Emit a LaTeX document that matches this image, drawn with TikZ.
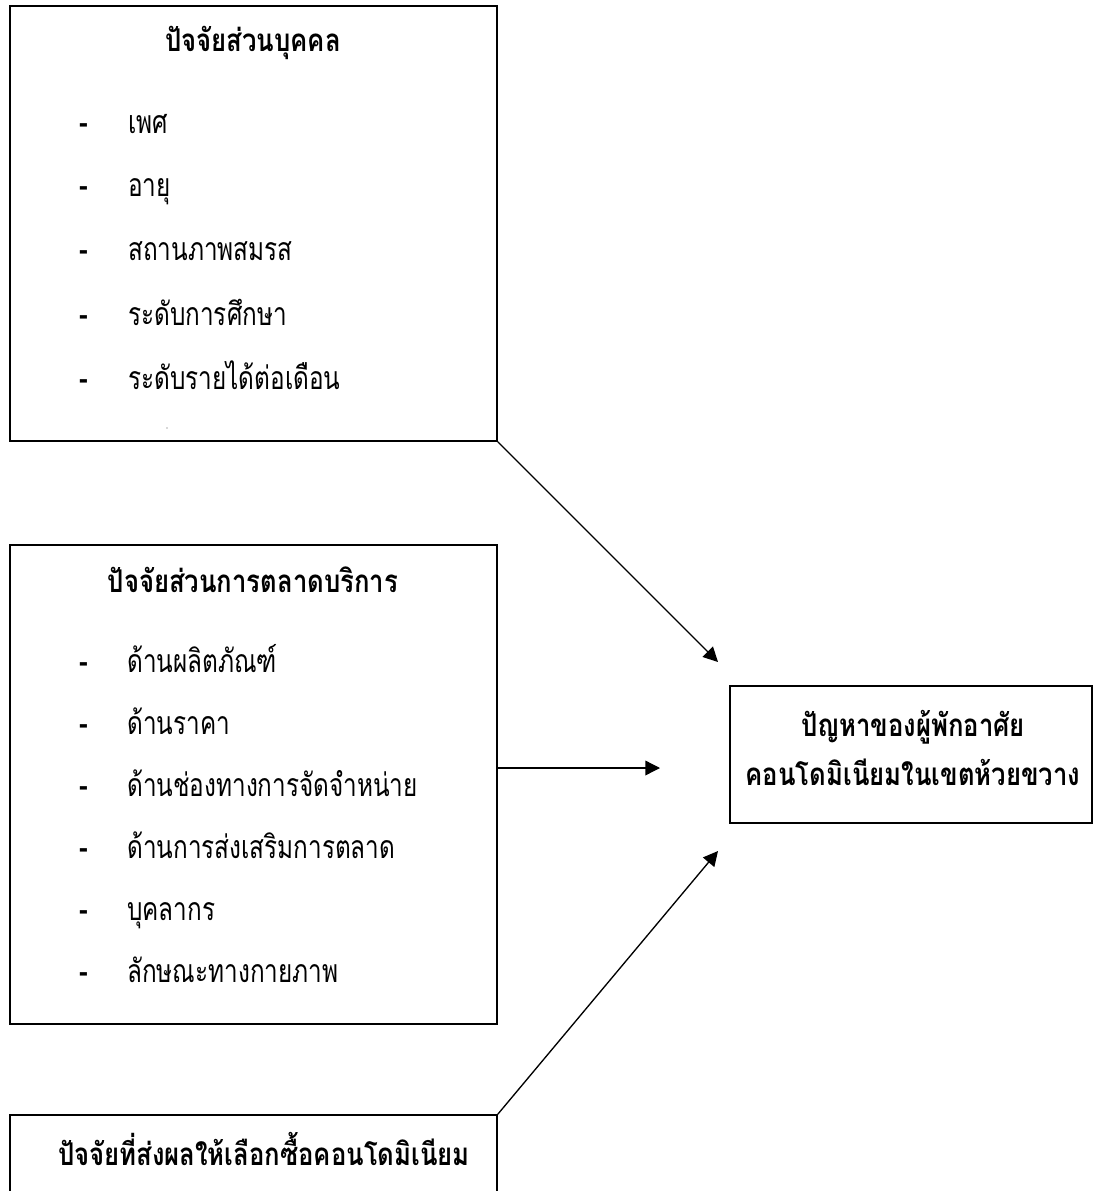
\documentclass[tikz,border=0pt]{standalone}
\usepackage{fontspec}
\newfontfamily\thai[Script=Thai,FakeStretch=0.76]{Loma}
\newfontfamily\thaib[Script=Thai,FakeStretch=0.82]{Loma}
\usetikzlibrary{arrows.meta,fit}
\begin{document}
\begin{tikzpicture}[x=0.75pt,y=-0.75pt,
  box/.style={draw, line width=1.2pt, inner sep=0pt},
  ttl/.style={font=\thaib\bfseries\fontsize{23.5}{27}\selectfont, anchor=base, inner sep=0pt},
  itm/.style={font=\thai\fontsize{24}{28}\selectfont, anchor=base west, inner sep=0pt},
  bul/.style={font=\thaib\bfseries\fontsize{24}{28}\selectfont, anchor=base, inner sep=0pt},
  arr/.style={-{Triangle[length=11pt,width=11pt]}, line width=1pt}]
\clip (0,0) rectangle (1096,1191);
\fill[white] (0,0) rectangle (1096,1191);
% boxes
\coordinate (b1a) at (10,6);   \coordinate (b1b) at (497,441);
\coordinate (b2a) at (10,545); \coordinate (b2b) at (497,1024);
\coordinate (b3a) at (10,1115);\coordinate (b3b) at (497,1240);
\coordinate (rba) at (730,686);\coordinate (rbb) at (1092,823);
\node[box, fit=(b1a)(b1b)] (b1) {};
\node[box, fit=(b2a)(b2b)] (b2) {};
\node[box, fit=(b3a)(b3b)] (b3) {};
\node[box, fit=(rba)(rbb)] (rb) {};
% box 1
\node[ttl] (t1) at (253,52) {ปัจจัยส่วนบุคคล};
\foreach \y/\t [count=\i] in {134/เพศ, 197/อายุ, 261/สถานภาพสมรส, 325/ระดับการศึกษา, 389/ระดับรายได้ต่อเดือน}{
  \node[bul] (d1\i) at (84,\y) {-};
  \node[itm] (i1\i) at (128,\y) {\t};
}
\fill[gray!60] (167,428) circle (0.9);
% box 2
\node[ttl] (t2) at (253,592) {ปัจจัยส่วนการตลาดบริการ};
\foreach \y/\t [count=\i] in {672/ด้านผลิตภัณฑ์, 734/ด้านราคา, 796/ด้านช่องทางการจัดจำหน่าย, 858/ด้านการส่งเสริมการตลาด, 920/บุคลากร, 982/ลักษณะทางกายภาพ}{
  \node[bul] (d2\i) at (84,\y) {-};
  \node[itm] (i2\i) at (127,\y) {\t};
}
% box 3
\node[ttl] (t3) at (264,1165) {ปัจจัยที่ส่งผลให้เลือกซื้อคอนโดมิเนียม};
% right box
\node[ttl] (r1) at (913,736) {ปัญหาของผู้พักอาศัย};
\node[ttl] (r2) at (913,785) {คอนโดมิเนียมในเขตห้วยขวาง};
% arrows
\coordinate (tipA) at (718,662);
\coordinate (tipB) at (660,768);
\coordinate (tipC) at (718,851);
\coordinate (srcB) at (497,768);
\draw[arr] (b1.south east) -- (tipA);
\draw[arr] (srcB) -- (tipB);
\draw[arr] (b3.north east) -- (tipC);
\end{tikzpicture}
\end{document}
